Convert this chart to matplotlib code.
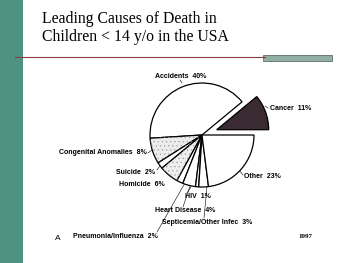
import matplotlib.pyplot as plt
import matplotlib.patches as mpatches
import numpy as np

# slices, counterclockwise from 3 o'clock
causes = ["Cancer", "Accidents", "Congenital Anomalies", "Suicide", "Homicide",
          "Pneumonia/Influenza", "Heart Disease", "HIV", "Septicemia/Other Infec", "Other"]
percent = [11, 40, 8, 2, 6, 2, 4, 1, 3, 23]
year = "1997"

W, H = 350, 263
fig = plt.figure(figsize=(3.5, 2.63), dpi=100)
fig.patch.set_facecolor("white")

# slide decorations (pixel coords, y from top)
def px(x, y):
    return x / W, 1 - y / H

bg = fig.add_axes([0, 0, 1, 1])
bg.set_xlim(0, W)
bg.set_ylim(H, 0)
bg.axis("off")
bg.add_patch(plt.Rectangle((0, 0), 23, H, color="#4d9282", lw=0))
bg.plot([15, 265], [57, 57], color="#8a3a48", lw=0.8)
bg.add_patch(plt.Rectangle((263, 55), 69, 6, facecolor="#93aea2", edgecolor="#5f6f68", lw=0.6))

fig.text(*px(42, 11), "Leading Causes of Death in\nChildren < 14 y/o in the USA",
         fontsize=11.3, family="Liberation Serif", va="top", ha="left", linespacing=1.15)

# pie
cx, cy, r = 202, 135, 52
span = 62
ax = fig.add_axes([(cx - span) / W, 1 - (cy + span) / H, 2 * span / W, 2 * span / H])
ax.axis("off")

colors = ["#3a2a31", "white", "#ececec", "white", "#eeeeee",
          "white", "white", "white", "white", "white"]
explode = [0.3, 0, 0, 0, 0, 0, 0, 0, 0, 0]
wedges, _ = ax.pie(percent, startangle=0, counterclock=True, colors=colors,
                   explode=explode, radius=1,
                   wedgeprops=dict(edgecolor="black", linewidth=0.9))
plt.rcParams["hatch.linewidth"] = 0.4
for i in (2, 4):
    w = wedges[i]
    overlay = mpatches.Wedge(w.center, w.r, w.theta1, w.theta2, facecolor="none",
                             edgecolor="#a0a0a0", lw=0, hatch="....")
    ax.add_patch(overlay)
lim = span / r
ax.set_xlim(-lim, lim)
ax.set_ylim(-lim, lim)

# label layout: text anchor (pixel), alignment, leader start and end (pixel)
label_pos = [(270, 108, "left", (268, 108), (265, 106)),
             (181, 77, "center", (180, 80), (182, 83)),
             (147, 153, "right", (148, 153), (152, 150)),
             (155, 173, "right", (157, 170), (162, 163)),
             (165, 184, "right", None, None),
             (158, 236, "right", (157, 232), (185, 183)),
             (155, 211, "left", (183, 207), (190, 186)),
             (185, 197, "left", (187, 193), (191, 187)),
             (162, 222, "left", (204, 218), (207, 186)),
             (244, 177, "left", (243, 175), (239, 170))]

for name, p, (tx, ty, ha, start, end) in zip(causes, percent, label_pos):
    fig.text(*px(tx, ty), f"{name}  {p}%", fontsize=5, weight="bold",
             family="Liberation Sans", ha=ha, va="center")
    if start is not None:
        bg.plot([start[0], end[0]], [start[1], end[1]], color="black", lw=0.4)

fig.text(*px(58, 239), "A", fontsize=6, family="Liberation Sans", ha="center", va="center")
fig.text(*px(305, 237), year, fontsize=5, weight="bold", family="Liberation Serif",
         ha="center", va="center")

fig.savefig("out.png", dpi=100)
